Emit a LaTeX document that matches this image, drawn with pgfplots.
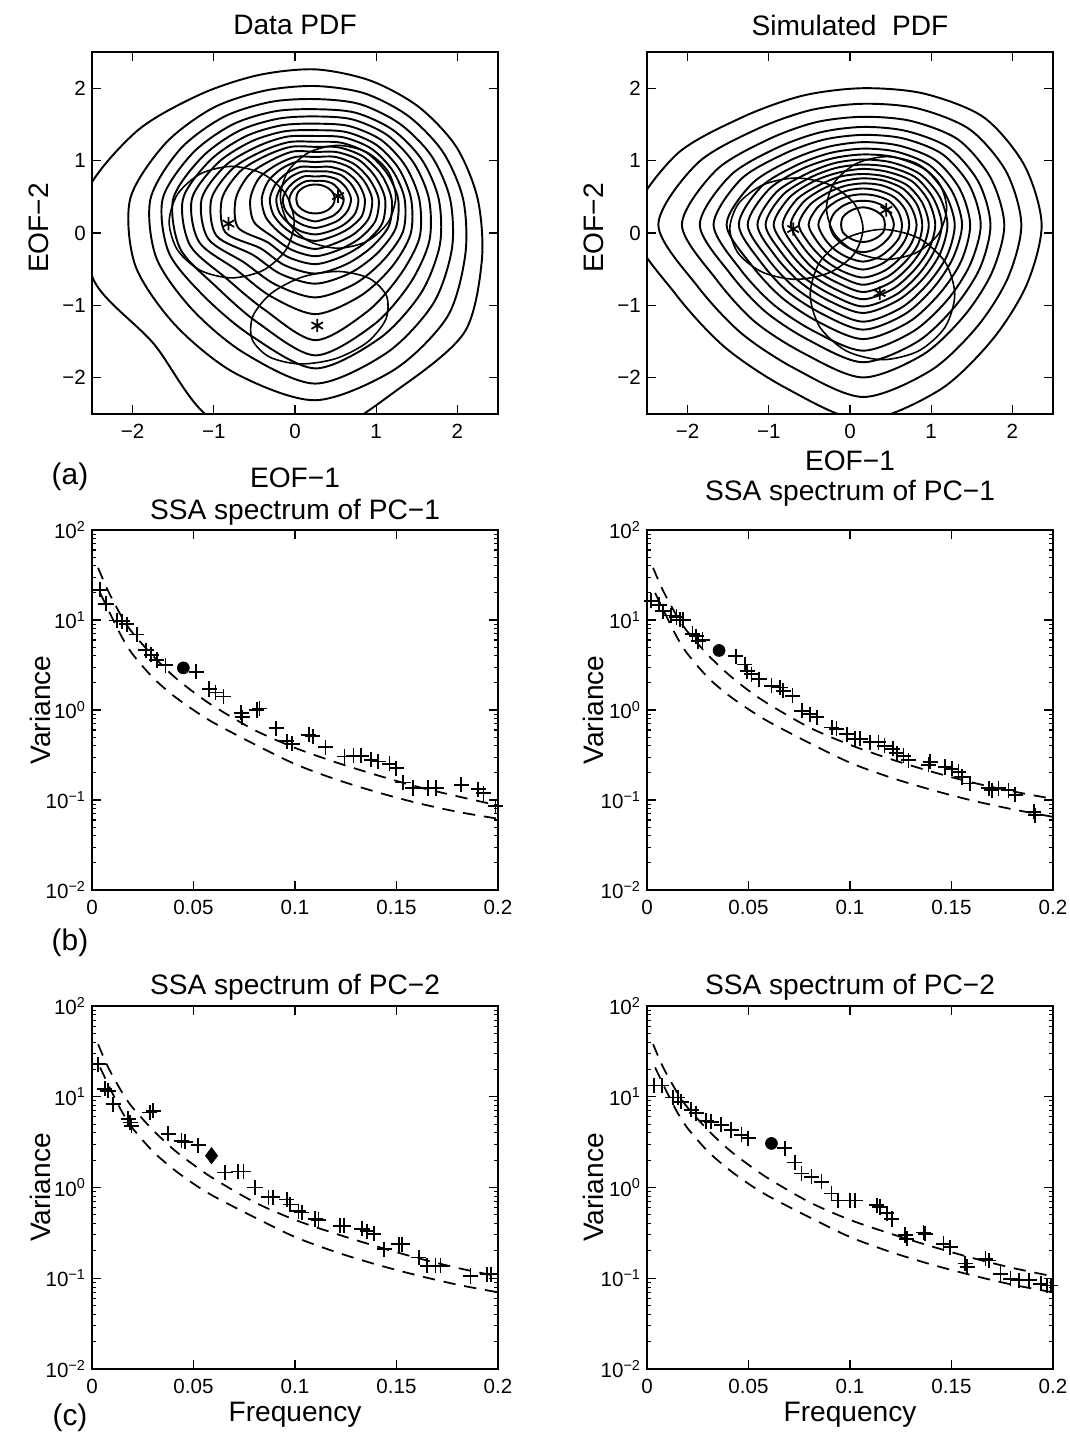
\documentclass[border=0pt]{standalone}
\usepackage{fontspec}
\setmainfont{Liberation Sans}
\usepackage{pgfplots}
\usepackage{pgfplotstable}
\pgfplotsset{compat=1.18}

% contour radii (data units) about the centre of each PDF, by angle t (deg)
\pgfplotstableread{
t k1 k2 k3 k4 k5 k6 k7 k8 k9 k10 k11 k12 k13 k14 k15 k16 k17 k18
0 2.0 1.82 1.66 1.52 1.40 1.28 1.18 1.10 1.02 0.94 0.86 0.78 0.70 0.61 0.53 0.44 0.35 0.24
22.5 1.88 1.70 1.55 1.42 1.31 1.20 1.11 1.03 0.95 0.88 0.80 0.72 0.65 0.57 0.49 0.41 0.32 0.233
45 1.80 1.62 1.47 1.35 1.25 1.15 1.06 0.98 0.90 0.83 0.76 0.68 0.61 0.53 0.46 0.38 0.30 0.217
67.5 1.77 1.58 1.42 1.29 1.19 1.09 1.00 0.92 0.84 0.77 0.70 0.63 0.56 0.48 0.41 0.34 0.27 0.205
90 1.79 1.56 1.38 1.24 1.14 1.04 0.95 0.87 0.79 0.72 0.65 0.58 0.51 0.44 0.38 0.31 0.25 0.20
112.5 1.85 1.62 1.45 1.31 1.20 1.10 1.01 0.93 0.85 0.78 0.71 0.63 0.56 0.48 0.41 0.34 0.27 0.205
135 2.03 1.78 1.60 1.45 1.33 1.22 1.12 1.02 0.93 0.85 0.76 0.67 0.59 0.50 0.43 0.35 0.28 0.217
157.5 2.40 2.00 1.80 1.64 1.51 1.40 1.30 1.20 1.10 1.00 0.88 0.75 0.63 0.53 0.45 0.37 0.30 0.233
180 2.85 2.28 2.03 1.88 1.75 1.63 1.52 1.40 1.28 1.15 0.98 0.80 0.66 0.56 0.48 0.40 0.32 0.234
202.5 2.95 2.40 2.12 1.95 1.80 1.67 1.55 1.43 1.32 1.20 1.03 0.82 0.66 0.56 0.48 0.40 0.32 0.233
225 2.82 2.45 2.15 1.92 1.72 1.55 1.38 1.24 1.09 0.96 0.84 0.74 0.64 0.55 0.47 0.39 0.31 0.217
247.5 3.30 2.60 2.30 2.05 1.85 1.65 1.45 1.28 1.12 0.99 0.87 0.76 0.66 0.56 0.48 0.39 0.30 0.205
270 3.30 2.78 2.55 2.34 2.16 1.95 1.59 1.36 1.17 1.03 0.90 0.79 0.69 0.58 0.49 0.40 0.31 0.20
292.5 2.80 2.55 2.30 2.08 1.88 1.68 1.45 1.27 1.11 0.98 0.86 0.76 0.66 0.56 0.48 0.39 0.30 0.205
315 2.60 2.30 2.05 1.84 1.65 1.48 1.33 1.19 1.07 0.96 0.86 0.77 0.68 0.58 0.50 0.41 0.32 0.217
337.5 2.22 2.00 1.82 1.66 1.52 1.39 1.27 1.17 1.07 0.98 0.89 0.80 0.71 0.62 0.53 0.43 0.34 0.233
}\dataPDF

\pgfplotstableread{
t k1 k2 k3 k4 k5 k6 k7 k8 k9 k10 k11 k12 k13 k14 k15 k16 k17 k18
0 2.20 1.95 1.74 1.57 1.45 1.32 1.22 1.13 1.04 0.97 0.89 0.81 0.73 0.66 0.57 0.48 0.38 0.27
22.5 2.15 1.91 1.70 1.54 1.42 1.29 1.19 1.10 1.02 0.94 0.87 0.79 0.72 0.64 0.56 0.47 0.37 0.27
45 2.10 1.86 1.66 1.50 1.38 1.26 1.16 1.08 0.99 0.92 0.85 0.77 0.70 0.62 0.54 0.46 0.36 0.25
67.5 1.96 1.74 1.55 1.40 1.29 1.18 1.09 1.01 0.93 0.86 0.79 0.72 0.66 0.59 0.51 0.43 0.34 0.24
90 1.885 1.67 1.49 1.35 1.24 1.14 1.05 0.97 0.90 0.83 0.77 0.70 0.64 0.57 0.50 0.42 0.33 0.24
112.5 1.93 1.71 1.53 1.38 1.27 1.16 1.07 0.99 0.92 0.85 0.78 0.72 0.65 0.58 0.51 0.43 0.34 0.24
135 2.10 1.86 1.66 1.50 1.38 1.26 1.16 1.08 0.99 0.92 0.85 0.77 0.70 0.62 0.54 0.46 0.36 0.25
157.5 2.50 2.21 1.96 1.77 1.63 1.48 1.36 1.26 1.16 1.07 0.98 0.89 0.80 0.71 0.61 0.51 0.39 0.27
180 2.85 2.52 2.23 2.01 1.84 1.68 1.53 1.42 1.30 1.20 1.10 0.99 0.89 0.79 0.67 0.55 0.41 0.27
202.5 2.50 2.21 1.96 1.77 1.63 1.48 1.36 1.26 1.16 1.07 0.98 0.89 0.80 0.71 0.61 0.51 0.39 0.27
225 2.40 2.12 1.89 1.70 1.56 1.42 1.31 1.21 1.11 1.03 0.94 0.86 0.77 0.68 0.59 0.49 0.37 0.25
247.5 2.45 2.16 1.92 1.73 1.59 1.45 1.33 1.23 1.13 1.04 0.95 0.86 0.77 0.69 0.59 0.49 0.37 0.24
270 2.70 2.38 2.11 1.90 1.74 1.58 1.45 1.34 1.22 1.13 1.03 0.93 0.83 0.73 0.62 0.51 0.38 0.24
292.5 2.47 2.18 1.94 1.75 1.60 1.46 1.34 1.24 1.13 1.05 0.96 0.87 0.78 0.69 0.59 0.49 0.37 0.24
315 2.25 1.99 1.77 1.60 1.47 1.34 1.23 1.14 1.05 0.97 0.89 0.81 0.73 0.65 0.56 0.47 0.36 0.25
337.5 2.18 1.93 1.72 1.56 1.43 1.31 1.20 1.12 1.03 0.95 0.88 0.80 0.73 0.65 0.56 0.48 0.37 0.27
}\simPDF

\newcommand{\lab}{\fontsize{16}{19}\selectfont}
\newcommand{\tlab}{\fontsize{11.7}{13}\selectfont}

\pgfplotsset{
  panelbase/.style={scale only axis, width=8.12cm, anchor=north west,
    axis line style={line width=0.8pt},
    every tick/.style={black, line width=0.6pt},
    major tick length=5pt, minor tick length=2.5pt,
    tick label style={font=\tlab},
    xticklabel shift=2.5pt,
    /pgf/number format/assume math mode=true},
  pdfax/.style={panelbase, height=7.24cm, xmin=-2.5, xmax=2.5, ymin=-2.5, ymax=2.5,
    xtick={-2,-1,0,1,2}, ytick={-2,-1,0,1,2},
    xticklabels={−2,−1,0,1,2}, yticklabels={−2,−1,0,1,2}},
  ctrax/.style={scale only axis, width=8.12cm, height=7.24cm, anchor=north west, hide axis, clip=true},
  cline/.style={black, line width=1.1pt, smooth cycle, data cs=polar, no markers},
  circline/.style={black, line width=0.9pt, smooth cycle, no markers},
  starmk/.style={only marks, mark=asterisk, mark size=3.8pt, black, mark options={line width=1pt}},
  specax/.style={panelbase, xmin=0, xmax=0.2, ymin=0.01, ymax=100,
    xtick={0,0.05,0.1,0.15,0.2}, xticklabels={0,0.05,0.1,0.15,0.2},
    ytick={0.01,0.1,1,10,100},
    yticklabels={10\textsuperscript{−2},10\textsuperscript{−1},10\textsuperscript{0},10\textsuperscript{1},10\textsuperscript{2}},
    minor ytick={0.02,0.03,0.04,0.05,0.06,0.07,0.08,0.09,0.2,0.3,0.4,0.5,0.6,0.7,0.8,0.9,2,3,4,5,6,7,8,9,20,30,40,50,60,70,80,90}},
  dline/.style={black, line width=1pt, dash pattern=on 7pt off 5pt, smooth, no markers},
  plusmk/.style={only marks, mark=+, mark size=4.3pt, black, mark options={line width=1pt}},
}

\begin{document}
\begin{tikzpicture}
\useasboundingbox (0,0) rectangle (21.38,-28.92);

% ---------- (a) Data PDF ----------
\begin{axis}[ctrax, at={(1.84cm,-1.04cm)}, xmin=-2.75, xmax=2.25, ymin=-2.97, ymax=2.03]
\pgfplotsinvokeforeach{1,...,18}{\addplot[cline] table[x=t, y=k#1] {\dataPDF};}
\end{axis}
\begin{axis}[pdfax, at={(1.84cm,-1.04cm)}]
\addplot[circline] coordinates {(-0.01,0.15) (-0.113,0.535) (-0.395,0.817) (-0.78,0.92) (-1.165,0.817) (-1.447,0.535) (-1.55,0.15) (-1.447,-0.235) (-1.165,-0.517) (-0.78,-0.62) (-0.395,-0.517) (-0.113,-0.235)};
\addplot[circline] coordinates {(1.24,0.5) (1.145,0.855) (0.885,1.115) (0.53,1.21) (0.175,1.115) (-0.085,0.855) (-0.18,0.5) (-0.085,0.145) (0.175,-0.115) (0.53,-0.21) (0.885,-0.115) (1.145,0.145)};
\addplot[circline] coordinates {(1.127,-0.869) (0.914,-0.627) (0.536,-0.531) (0.095,-0.606) (-0.291,-0.832) (-0.519,-1.149) (-0.527,-1.471) (-0.314,-1.713) (0.064,-1.809) (0.505,-1.734) (0.891,-1.508) (1.119,-1.191)};
\addplot[starmk] coordinates {(-0.82,0.13) (0.53,0.51) (0.274,-1.278)};
\end{axis}

% ---------- Simulated PDF ----------
\begin{axis}[ctrax, at={(12.94cm,-1.04cm)}, xmin=-2.66, xmax=2.34, ymin=-2.615, ymax=2.385]
\pgfplotsinvokeforeach{1,...,18}{\addplot[cline] table[x=t, y=k#1] {\simPDF};}
\end{axis}
\begin{axis}[pdfax, at={(12.94cm,-1.04cm)}]
\addplot[circline] coordinates {(0.16,0.06) (0.050,0.41) (-0.25,0.666) (-0.66,0.76) (-1.07,0.666) (-1.37,0.41) (-1.48,0.06) (-1.37,-0.29) (-1.07,-0.546) (-0.66,-0.64) (-0.25,-0.546) (0.050,-0.29)};
\addplot[circline] coordinates {(1.19,0.345) (1.091,0.70) (0.82,0.96) (0.45,1.055) (0.08,0.96) (-0.191,0.70) (-0.29,0.345) (-0.191,-0.01) (0.08,-0.27) (0.45,-0.365) (0.82,-0.27) (1.091,-0.01)};
\addplot[circline] coordinates {(1.29,-0.85) (1.171,-0.40) (0.845,-0.071) (0.4,0.05) (-0.045,-0.071) (-0.371,-0.40) (-0.49,-0.85) (-0.371,-1.30) (-0.045,-1.629) (0.4,-1.75) (0.845,-1.629) (1.171,-1.30)};
\addplot[starmk] coordinates {(-0.70,0.055) (0.447,0.32) (0.365,-0.83)};
\end{axis}

% ---------- (b) PC-1, data ----------
\begin{semilogyaxis}[specax, height=7.2cm, at={(1.84cm,-10.6cm)}]
\addplot[dline] coordinates {(0.003,38) (0.008,20.9) (0.015,10.5) (0.02,7.2) (0.03,4.0) (0.04,2.4) (0.05,1.58) (0.06,1.10) (0.08,0.60) (0.1,0.38) (0.12,0.263) (0.14,0.19) (0.16,0.141) (0.18,0.110) (0.2,0.087)};
\addplot[dline] coordinates {(0.004,20) (0.01,10.5) (0.015,6.3) (0.02,4.17) (0.03,2.29) (0.04,1.45) (0.05,1.0) (0.06,0.72) (0.08,0.417) (0.1,0.251) (0.12,0.170) (0.14,0.123) (0.16,0.093) (0.18,0.074) (0.2,0.062)};
\addplot[plusmk] coordinates {(0.0039,21.7) (0.0069,15.1) (0.0122,9.9) (0.0148,9.7) (0.0171,9.0) (0.0220,6.9) (0.0266,4.6) (0.0291,4.1) (0.0319,3.6) (0.0362,3.15) (0.0513,2.66) (0.0578,1.71) (0.0608,1.57) (0.0648,1.41) (0.0735,0.93) (0.0740,0.83) (0.0812,1.0) (0.0825,1.04) (0.0907,0.63) (0.0960,0.45) (0.0986,0.42) (0.1068,0.53) (0.1088,0.51) (0.1150,0.386) (0.1244,0.304) (0.1288,0.31) (0.1326,0.31) (0.1376,0.28) (0.1409,0.268) (0.1466,0.252) (0.1499,0.226) (0.1532,0.157) (0.1581,0.136) (0.1655,0.136) (0.1696,0.136) (0.1819,0.148) (0.1902,0.132) (0.1929,0.119) (0.1988,0.085)};
\addplot[only marks, mark=*, mark size=3.4pt, black] coordinates {(0.045,2.94)};
\end{semilogyaxis}

% ---------- PC-1, simulated ----------
\begin{semilogyaxis}[specax, height=7.2cm, at={(12.94cm,-10.6cm)}]
\addplot[dline] coordinates {(0.003,38) (0.008,21) (0.015,10.8) (0.02,7.4) (0.03,4.1) (0.04,2.5) (0.05,1.65) (0.06,1.16) (0.08,0.64) (0.1,0.41) (0.12,0.285) (0.14,0.207) (0.16,0.157) (0.18,0.125) (0.2,0.103)};
\addplot[dline] coordinates {(0.004,20) (0.01,10.5) (0.015,6.3) (0.02,4.2) (0.03,2.3) (0.04,1.47) (0.05,1.02) (0.06,0.74) (0.08,0.43) (0.1,0.26) (0.12,0.178) (0.14,0.13) (0.16,0.099) (0.18,0.079) (0.2,0.065)};
\addplot[plusmk] coordinates {(0.0021,16.3) (0.0059,14.8) (0.0079,12.5) (0.012,11.2) (0.0145,10.8) (0.0161,10.1) (0.0178,10.0) (0.0224,7.0) (0.0243,6.6) (0.0252,5.8) (0.0273,6.0) (0.0437,3.97) (0.0482,3.2) (0.0493,2.7) (0.0515,2.5) (0.0553,2.2) (0.0613,1.86) (0.0655,1.78) (0.0671,1.63) (0.0717,1.44) (0.0762,0.98) (0.0803,0.9) (0.0836,0.83) (0.091,0.64) (0.0934,0.62) (0.0984,0.54) (0.1025,0.48) (0.105,0.48) (0.11,0.44) (0.114,0.44) (0.117,0.40) (0.121,0.37) (0.123,0.33) (0.1263,0.31) (0.1288,0.276) (0.1387,0.247) (0.1395,0.265) (0.1469,0.233) (0.1502,0.223) (0.1535,0.205) (0.1551,0.18) (0.1592,0.153) (0.1683,0.135) (0.1699,0.129) (0.1732,0.135) (0.1781,0.129) (0.1814,0.114) (0.1905,0.074) (0.1913,0.068)};
\addplot[only marks, mark=*, mark size=3.4pt, black] coordinates {(0.0355,4.59)};
\end{semilogyaxis}

% ---------- (c) PC-2, data ----------
\begin{semilogyaxis}[specax, height=7.26cm, at={(1.84cm,-20.12cm)}]
\addplot[dline] coordinates {(0.003,38) (0.008,21) (0.015,11) (0.02,7.6) (0.03,4.3) (0.04,2.65) (0.05,1.78) (0.06,1.25) (0.08,0.69) (0.1,0.44) (0.12,0.31) (0.14,0.225) (0.16,0.168) (0.18,0.13) (0.2,0.105)};
\addplot[dline] coordinates {(0.004,21) (0.01,11) (0.015,6.7) (0.02,4.5) (0.03,2.5) (0.04,1.6) (0.05,1.1) (0.06,0.8) (0.08,0.47) (0.1,0.285) (0.12,0.195) (0.14,0.142) (0.16,0.108) (0.18,0.085) (0.2,0.07)};
\addplot[plusmk] coordinates {(0.003,22.9) (0.0063,12.2) (0.0079,11.6) (0.0104,8.3) (0.0178,5.7) (0.0189,5.2) (0.0194,4.8) (0.0285,6.7) (0.0301,7.0) (0.0375,3.9) (0.0441,3.27) (0.0458,3.2) (0.0523,2.93) (0.0655,1.46) (0.0721,1.5) (0.0746,1.5) (0.0803,1.0) (0.0869,0.78) (0.0891,0.78) (0.096,0.74) (0.0976,0.65) (0.1017,0.55) (0.1034,0.53) (0.11,0.45) (0.1116,0.44) (0.1223,0.38) (0.124,0.38) (0.133,0.35) (0.1355,0.33) (0.1388,0.31) (0.144,0.209) (0.1511,0.237) (0.1528,0.237) (0.161,0.169) (0.1651,0.137) (0.1692,0.137) (0.1717,0.137) (0.1865,0.106) (0.1947,0.111) (0.1967,0.111)};
\addplot[only marks, mark=diamond*, mark size=4.6pt, black] coordinates {(0.0589,2.24)};
\end{semilogyaxis}

% ---------- PC-2, simulated ----------
\begin{semilogyaxis}[specax, height=7.26cm, at={(12.94cm,-20.12cm)}]
\addplot[dline] coordinates {(0.003,38) (0.008,21) (0.015,11) (0.02,7.6) (0.03,4.3) (0.04,2.65) (0.05,1.78) (0.06,1.25) (0.08,0.69) (0.1,0.44) (0.12,0.31) (0.14,0.225) (0.16,0.168) (0.18,0.13) (0.2,0.105)};
\addplot[dline] coordinates {(0.004,21) (0.01,11) (0.015,6.7) (0.02,4.5) (0.03,2.5) (0.04,1.6) (0.05,1.1) (0.06,0.8) (0.08,0.47) (0.1,0.285) (0.12,0.195) (0.14,0.142) (0.16,0.108) (0.18,0.085) (0.2,0.07)};
\addplot[plusmk] coordinates {(0.0036,13.3) (0.0072,13.3) (0.0127,9.8) (0.0152,9.8) (0.0168,8.8) (0.0217,7.2) (0.0242,6.6) (0.0292,5.4) (0.0316,5.3) (0.0366,4.9) (0.0415,4.3) (0.0465,3.8) (0.0498,3.5) (0.0679,2.7) (0.0728,1.89) (0.0761,1.43) (0.081,1.31) (0.086,1.16) (0.0909,0.86) (0.0942,0.72) (0.1,0.72) (0.1025,0.72) (0.1132,0.64) (0.1148,0.61) (0.1181,0.52) (0.1206,0.45) (0.1272,0.30) (0.128,0.273) (0.1362,0.32) (0.1371,0.31) (0.1461,0.24) (0.1494,0.22) (0.1568,0.145) (0.1577,0.133) (0.1667,0.164) (0.1684,0.157) (0.1741,0.112) (0.1791,0.099) (0.1832,0.095) (0.1882,0.095) (0.1939,0.087) (0.1972,0.083) (0.1989,0.083)};
\addplot[only marks, mark=*, mark size=3.4pt, black] coordinates {(0.0613,3.06)};
\end{semilogyaxis}

% ---------- text ----------
\node[font=\lab] at (5.9,-0.5) {Data PDF};
\node[font=\lab] at (17.0,-0.5) {Simulated\ \ PDF};
\node[font=\lab, rotate=90] at (0.78,-4.56) {EOF−2};
\node[font=\lab, rotate=90] at (11.88,-4.56) {EOF−2};
\node[font=\fontsize{17}{20}\selectfont] at (1.4,-9.54) {(a)};
\node[font=\lab] at (5.9,-9.56) {EOF−1};
\node[font=\lab] at (17.0,-9.22) {EOF−1};
\node[font=\lab] at (5.9,-10.24) {SSA spectrum of PC−1};
\node[font=\lab] at (17.0,-9.86) {SSA spectrum of PC−1};
\node[font=\lab, rotate=90] at (0.8,-14.2) {Variance};
\node[font=\lab, rotate=90] at (11.86,-14.2) {Variance};
\node[font=\fontsize{17}{20}\selectfont] at (1.4,-18.86) {(b)};
\node[font=\lab] at (5.9,-19.74) {SSA spectrum of PC−2};
\node[font=\lab] at (17.0,-19.74) {SSA spectrum of PC−2};
\node[font=\lab, rotate=90] at (0.8,-23.75) {Variance};
\node[font=\lab, rotate=90] at (11.86,-23.75) {Variance};
\node[font=\fontsize{17}{20}\selectfont] at (1.4,-28.36) {(c)};
\node[font=\lab] at (5.9,-28.3) {Frequency};
\node[font=\lab] at (17.0,-28.3) {Frequency};
\end{tikzpicture}
\end{document}
